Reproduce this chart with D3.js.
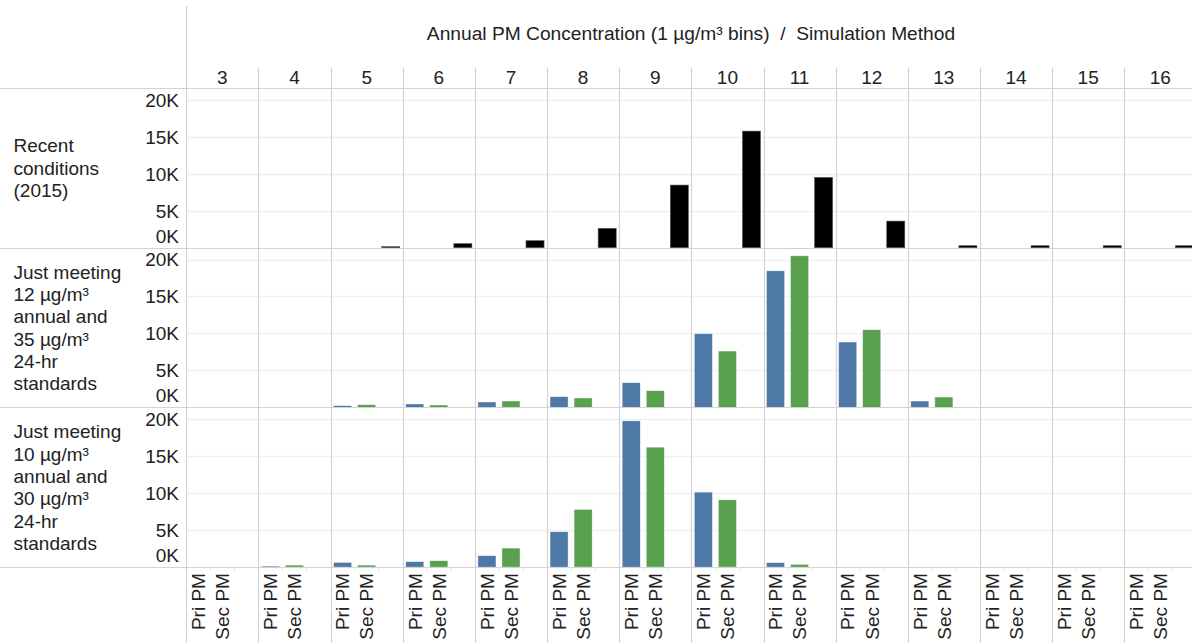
<!DOCTYPE html>
<html>
<head>
<meta charset="utf-8">
<script src="https://cdn.jsdelivr.net/npm/d3@7"></script>
<style>
  html, body { margin: 0; padding: 0; background: #fff; }
  svg { display: block; font-family: "Liberation Sans", Arial, sans-serif; }
</style>
</head>
<body>
<svg id="chart" width="1192" height="643"></svg>
<script>
// ---------- data ----------
const bins = [3, 4, 5, 6, 7, 8, 9, 10, 11, 12, 13, 14, 15, 16];
const methods = ["Pri PM", "Sec PM", ""];
const rowLabels = [
  ["Recent", "conditions", "(2015)"],
  ["Just meeting", "12 µg/m³", "annual and", "35 µg/m³", "24-hr", "standards"],
  ["Just meeting", "10 µg/m³", "annual and", "30 µg/m³", "24-hr", "standards"]
];
const yTicks = [0, 5000, 10000, 15000, 20000];
const title = "Annual PM Concentration (1 µg/m³ bins)  /  Simulation Method";

const recentValues   = [0, 0, 140, 550, 950, 2620, 8470, 15770, 9510, 3600, 270, 270, 270, 270];
const meet12PriValues = [0, 0, 230, 460, 730, 1450, 3340, 9960, 18470, 8840, 860, 0, 0, 0];
const meet12SecValues = [0, 0, 360, 320, 860, 1270, 2260, 7620, 20500, 10500, 1400, 0, 0, 0];
const meet10PriValues = [0, 135, 630, 730, 1540, 4780, 19780, 10140, 600, 0, 0, 0, 0, 0];
const meet10SecValues = [0, 270, 270, 860, 2570, 7800, 16220, 9100, 360, 0, 0, 0, 0, 0];

const colors = { "Pri PM": "#4e79a7", "Sec PM": "#59a14f", "": "#000000" };

// build row records
const rows = [
  { label: rowLabels[0], series: [{ method: "", values: recentValues }] },
  { label: rowLabels[1], series: [{ method: "Pri PM", values: meet12PriValues }, { method: "Sec PM", values: meet12SecValues }] },
  { label: rowLabels[2], series: [{ method: "Pri PM", values: meet10PriValues }, { method: "Sec PM", values: meet10SecValues }] }
];

// ---------- layout ----------
const W = 1192, H = 643;
const plotLeft = 186.3, plotRight = 1196.4;
const headerBottom = 88;
const rowH = 159.7;
const fontSize = 19;
const lineC = "#d3d3d3";
const gridC = "#f0f0f0";
const textC = "#222";

const svg = d3.select("#chart");

const x = d3.scaleBand().domain(bins).range([plotLeft, plotRight]).padding(0);
const xs = d3.scaleBand().domain(methods).range([0, x.bandwidth()]).paddingInner(0.25).paddingOuter(0.125);

// title
svg.append("text")
  .attr("x", 691).attr("y", 40)
  .attr("text-anchor", "middle")
  .attr("font-size", 19.2)
  .attr("fill", textC)
  .attr("xml:space", "preserve")
  .style("white-space", "pre")
  .text(title);

// column header labels
svg.append("g").selectAll("text").data(bins).join("text")
  .attr("x", d => x(d) + x.bandwidth() / 2)
  .attr("y", 83.5)
  .attr("text-anchor", "middle")
  .attr("font-size", fontSize)
  .attr("fill", textC)
  .text(d => d);

// rows
rows.forEach((row, ri) => {
  const top = headerBottom + ri * rowH;
  const bottom = top + rowH;
  const y = d3.scaleLinear().domain([0, 21600]).range([bottom, top]);
  const g = svg.append("g");

  // gridlines
  g.selectAll("line.grid").data(yTicks.filter(t => t > 0)).join("line")
    .attr("x1", plotLeft).attr("x2", W)
    .attr("y1", d => Math.round(y(d)) + 0.5).attr("y2", d => Math.round(y(d)) + 0.5)
    .attr("stroke", gridC).attr("stroke-width", 1.5);

  // tick labels
  g.selectAll("text.tick").data(yTicks).join("text")
    .attr("x", 179)
    .attr("y", d => d === 0 ? bottom - 5 : y(d) + 6.8)
    .attr("text-anchor", "end")
    .attr("font-size", fontSize)
    .attr("fill", textC)
    .text(d => d3.format("d")(d / 1000) + "K");

  // row label
  const n = row.label.length;
  const cy = (top + bottom) / 2;
  g.selectAll("text.rl").data(row.label).join("text")
    .attr("x", 13.5)
    .attr("y", (d, i) => cy + (i - (n - 1) / 2) * 22.3 + 6.8)
    .attr("font-size", fontSize)
    .attr("fill", textC)
    .text(d => d);

  // bars
  row.series.forEach(s => {
    const data = bins.map((b, i) => ({ bin: b, v: s.values[i] })).filter(d => d.v > 0);
    g.selectAll(null).data(data).join("rect")
      .attr("x", d => x(d.bin) + xs(s.method))
      .attr("width", xs.bandwidth())
      .attr("y", d => y(d.v))
      .attr("height", d => y(0) - y(d.v))
      .attr("fill", colors[s.method])
      .attr("stroke", s.method === "" ? "#555" : "rgba(255,255,255,0.6)")
      .attr("stroke-width", 0.6);
  });
});

// column separators
svg.append("g").selectAll("line").data(bins).join("line")
  .attr("x1", d => Math.round(x(d)) + 0.5).attr("x2", d => Math.round(x(d)) + 0.5)
  .attr("y1", d => d === bins[0] ? 6 : 68).attr("y2", H)
  .attr("stroke", lineC).attr("stroke-width", 1.2);

// horizontal row separators
const seps = [0, 1, 2, 3].map(i => headerBottom + i * rowH);
svg.append("g").selectAll("line").data(seps).join("line")
  .attr("x1", 0).attr("x2", W)
  .attr("y1", d => Math.round(d) + 0.5).attr("y2", d => Math.round(d) + 0.5)
  .attr("stroke", lineC).attr("stroke-width", 1.2);

// bottom header: slot ticks and rotated labels
const bottomY = headerBottom + 3 * rowH;
const slots = [];
bins.forEach(b => methods.forEach(m => slots.push({ bin: b, m })));
svg.append("g").selectAll("line").data(slots.filter(s => s.m !== "Pri PM")).join("line")
  .attr("x1", d => x(d.bin) + xs.step() * methods.indexOf(d.m))
  .attr("x2", d => x(d.bin) + xs.step() * methods.indexOf(d.m))
  .attr("y1", bottomY).attr("y2", bottomY + 4)
  .attr("stroke", "#e6e6e6").attr("stroke-width", 1);

svg.append("g").selectAll("text").data(slots.filter(s => s.m !== "")).join("text")
  .attr("transform", d => `translate(${x(d.bin) + xs(d.m) + xs.bandwidth() / 2 + 6.8},${bottomY + 6}) rotate(-90)`)
  .attr("text-anchor", "end")
  .attr("font-size", fontSize)
  .attr("fill", textC)
  .text(d => d.m);
</script>
</body>
</html>
